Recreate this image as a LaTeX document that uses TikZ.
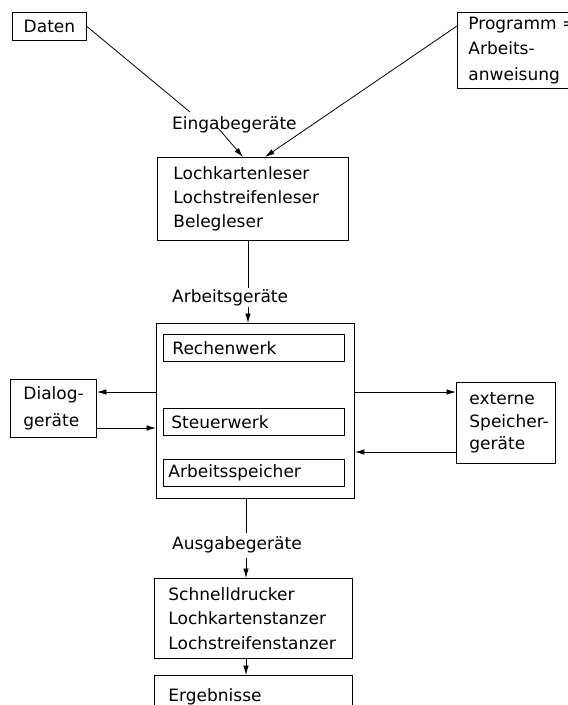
\documentclass[tikz,border=0pt]{standalone}
\usepackage{fontspec}
\setmainfont{DejaVu Sans}
\usetikzlibrary{arrows.meta,calc}
\newcommand{\ind}[1]{\hspace*{#1}}
\begin{document}
\begin{tikzpicture}[x=1pt,y=-1pt,
  box/.style={draw, line width=0.9pt, rectangle, inner ysep=0pt, inner xsep=2pt, anchor=north west, align=left,
    font=\fontsize{17}{24}\selectfont},
  lbl/.style={inner sep=0pt, anchor=west, font=\fontsize{17}{24}\selectfont},
  conn/.style={line width=0.8pt},
  arr/.style={line width=0.8pt, -{Latex[length=9.5pt,width=5.5pt]}}]
\useasboundingbox (0,0) rectangle (568,705);
\clip (0,0) rectangle (568,705);
% top boxes
\node[box, minimum width=74pt, minimum height=28pt, text width=70pt, align=center] (daten) at (12,12) {Daten};
\node[box, minimum width=125pt, minimum height=76pt, text width=121pt,
  font=\fontsize{17}{25.5}\selectfont] (prog) at (457,12)
  {\ind{9pt}Programm =\\\ind{9pt}Arbeits-\\\ind{9pt}anweisung};
% input devices
\node[box, minimum width=191pt, minimum height=83pt, text width=187pt] (lk) at (157,157)
  {\ind{14pt}Lochkartenleser\\\ind{14pt}Lochstreifenleser\\\ind{14pt}Belegleser};
\node[lbl] (eing) at (172,125) {Eingabegeräte};
\coordinate (d1) at (190,112);
\coordinate (d2) at (218,128);
\coordinate (lkin1) at (243,157);
\coordinate (lkin2) at (265,157);
\draw[conn] (daten.east) -- (d1);
\draw[arr] (d2) -- (lk.north -| lkin1);
\draw[arr] ($(prog.north west)+(0,14)$) -- (lk.north -| lkin2);
% central unit
\node[box, minimum width=198pt, minimum height=175pt, inner sep=0pt] (main) at (156,323) {};
\node[box, minimum width=181pt, minimum height=27pt, text width=177pt] (rechen) at (163,334) {\ind{7pt}Rechenwerk};
\node[box, minimum width=181pt, minimum height=27pt, text width=177pt] (steuer) at (163,408) {\ind{6pt}Steuerwerk};
\node[box, minimum width=181pt, minimum height=27pt, text width=177pt] (arbeit) at (163,459) {\ind{3pt}Arbeitsspeicher};
\node[lbl] (arbg) at (172,298) {Arbeitsgeräte};
\coordinate (ag1) at (248,288);
\coordinate (ag2) at (248,307);
\draw[conn] (lk.south -| ag1) -- (ag1);
\draw[arr] (ag2) -- (main.north -| ag2);
% dialog devices
\node[box, minimum width=86pt, minimum height=58pt, text width=82pt,
  font=\fontsize{17}{26.5}\selectfont] (dialog) at (10,379) {\ind{11pt}Dialog-\\\ind{11pt}geräte};
\coordinate (ya) at (0,392);
\coordinate (yb) at (0,428);
\draw[arr] (main.west |- ya) -- (dialog.east |- ya);
\draw[arr] (dialog.east |- yb) -- (main.west |- yb);
% external storage
\node[box, minimum width=99pt, minimum height=81pt, text width=95pt,
  font=\fontsize{17}{22.5}\selectfont] (ext) at (456,382)
  {\ind{11pt}externe\\\ind{11pt}Speicher-\\\ind{11pt}geräte};
\coordinate (yc) at (0,452);
\draw[arr] (main.east |- ya) -- (ext.west |- ya);
\draw[arr] (ext.west |- yc) -- (main.east |- yc);
% output devices
\node[lbl] (ausg) at (172,545) {Ausgabegeräte};
\node[box, minimum width=198pt, minimum height=80pt, text width=194pt,
  font=\fontsize{17}{24.5}\selectfont] (sd) at (154,578)
  {\ind{12pt}Schnelldrucker\\\ind{12pt}Lochkartenstanzer\\\ind{12pt}Lochstreifenstanzer};
\node[box, minimum width=198pt, minimum height=44pt, text width=194pt] (erg) at (154,675)
  {\ind{12pt}\raisebox{4pt}{Ergebnisse}};
\coordinate (au1) at (246,533);
\coordinate (au2) at (246,558);
\draw[conn] (main.south -| au1) -- (au1);
\draw[arr] (au2) -- (sd.north -| au2);
\draw[arr] (sd.south -| au2) -- (erg.north -| au2);
\end{tikzpicture}
\end{document}
